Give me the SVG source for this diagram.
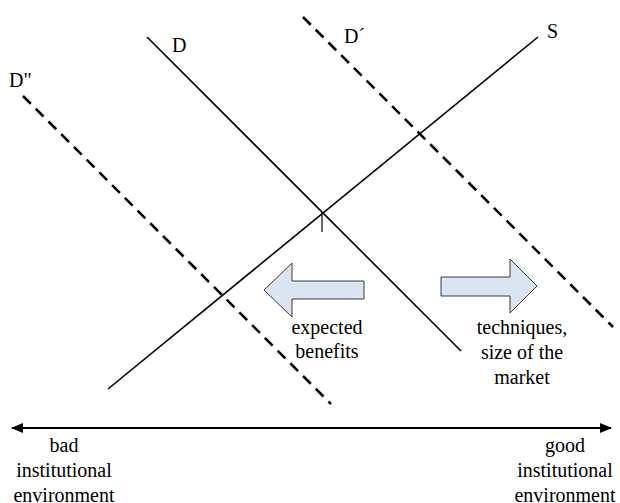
<svg xmlns="http://www.w3.org/2000/svg" width="620" height="503" viewBox="0 0 620 503">
<defs>
<style>
.ln{stroke:#000;stroke-width:1.6;fill:none}
.dl{stroke:#000;stroke-width:2.6;fill:none;stroke-dasharray:11 7}
.ar{fill:#dbe5f1;stroke:#3a3a3a;stroke-width:1}
.t{font-family:'Liberation Serif','Times New Roman','DejaVu Serif',serif;font-size:20px;fill:#000}
.m{text-anchor:middle}
</style>
<marker id="ah" viewBox="0 0 12 10" refX="11" refY="5" markerWidth="12" markerHeight="10" markerUnits="userSpaceOnUse" orient="auto-start-reverse">
<path d="M0,0 L12,5 L0,10 z" fill="#000"/>
</marker>
</defs>
<rect width="620" height="503" fill="#fff"/>
<g id="connectors">
<line id="D" class="ln" x1="147" y1="37" x2="461" y2="351"/>
<line id="S" class="ln" x1="108" y1="389" x2="538" y2="37"/>
<line id="Dprime" class="dl" x1="303" y1="17" x2="613" y2="327"/>
<line id="Ddprime" class="dl" x1="23" y1="96" x2="331" y2="404"/>
<line id="tick" stroke="#000" stroke-width="1.2" x1="322" y1="212" x2="322" y2="232"/>
<line id="axis" stroke="#000" stroke-width="2" x1="12" y1="428" x2="611" y2="428" marker-start="url(#ah)" marker-end="url(#ah)"/>
</g>
<g id="labels" class="t">
<text x="172" y="52">D</text>
<text x="344" y="43">D´</text>
<text x="9" y="87">D"</text>
<text x="547" y="38">S</text>
</g>
<g id="left-arrow">
<polygon class="ar" points="264,290 292,263 292,281 364,281 364,299 292,299 292,317"/>
<text class="t m" x="327" y="334">expected</text>
<text class="t m" x="327" y="358">benefits</text>
</g>
<g id="right-arrow">
<polygon class="ar" points="441,277 510,277 510,259 537,286 510,313 510,296 441,296"/>
<text class="t m" x="522" y="334">techniques,</text>
<text class="t m" x="522" y="359">size of the</text>
<text class="t m" x="522" y="384">market</text>
</g>
<g id="bad">
<text class="t m" x="64" y="452">bad</text>
<text class="t m" x="64" y="477">institutional</text>
<text class="t m" x="64" y="502">environment</text>
</g>
<g id="good">
<text class="t m" x="565" y="452">good</text>
<text class="t m" x="565" y="477">institutional</text>
<text class="t m" x="565" y="502">environment</text>
</g>
</svg>
